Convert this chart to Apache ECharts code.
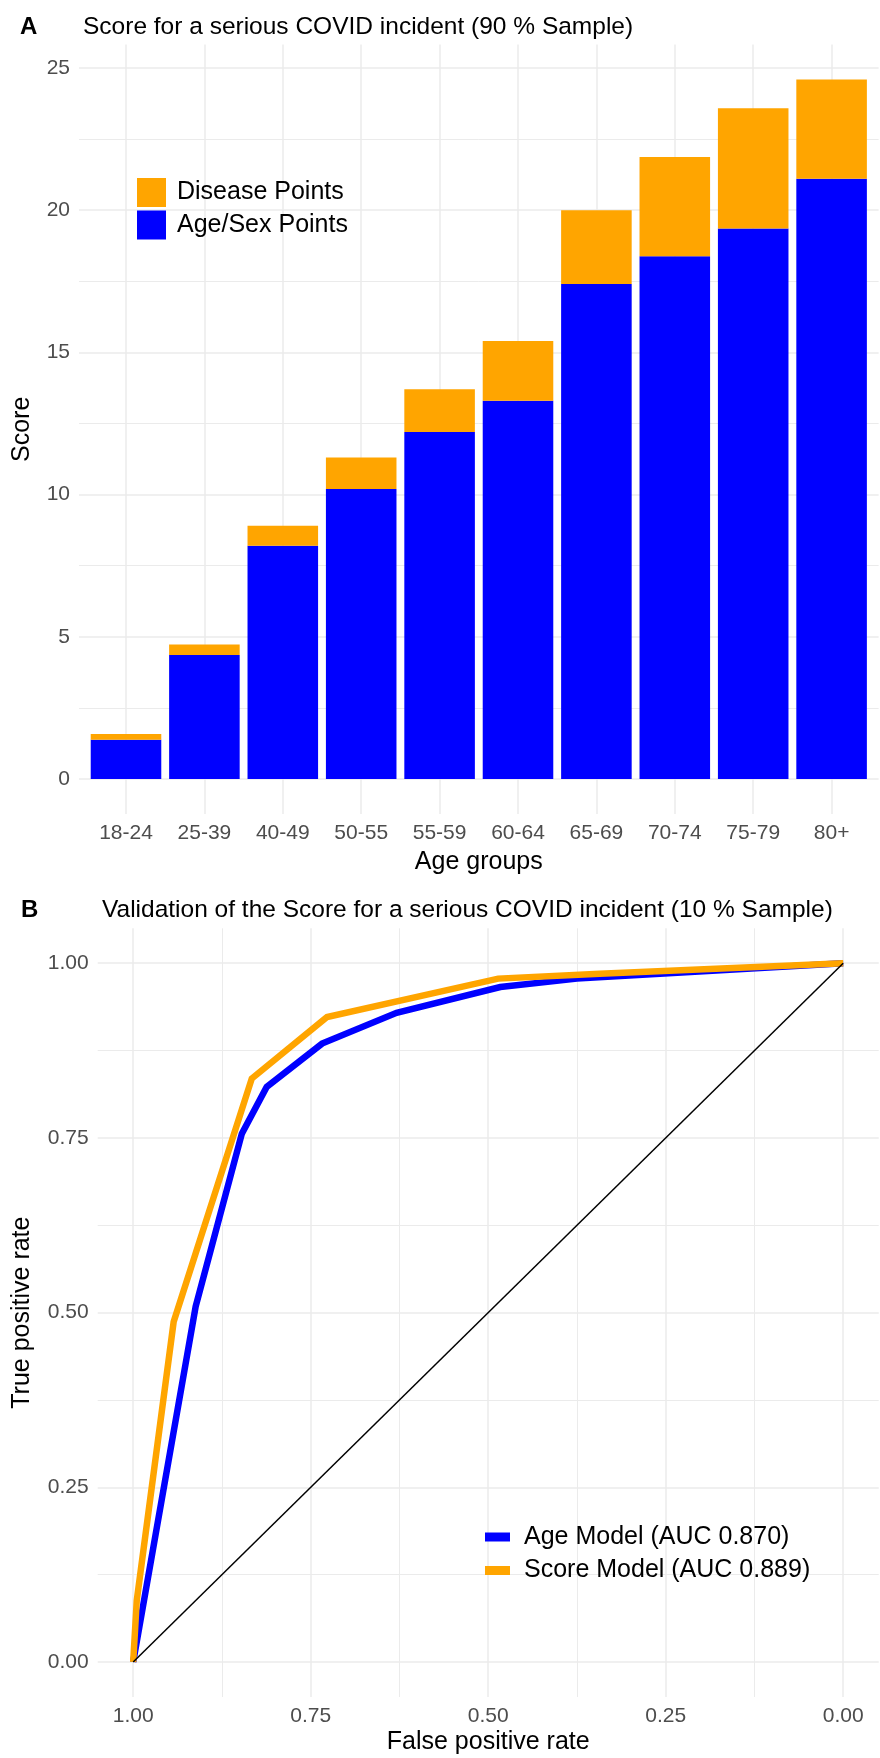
<!DOCTYPE html>
<html>
<head>
<meta charset="utf-8">
<script src="https://cdn.jsdelivr.net/npm/echarts@6/dist/echarts.min.js"></script>
<style>
html,body{margin:0;padding:0;background:#fff;}
#chart{width:880px;height:1758px;}
</style>
</head>
<body>
<div id="chart"></div>
<script>
// ---------- Panel A data ----------
const ageGroups = ['18-24','25-39','40-49','50-55','55-59','60-64','65-69','70-74','75-79','80+'];
const ageSexPoints = [1.38, 4.36, 8.2, 10.2, 12.2, 13.3, 17.4, 18.38, 19.35, 21.1];
const diseasePoints = [0.2, 0.37, 0.7, 1.1, 1.5, 2.1, 2.6, 3.49, 4.23, 3.49];
const scoreTicks = [0, 5, 10, 15, 20, 25];
const scoreMinorTicks = [2.5, 7.5, 12.5, 17.5, 22.5];

// ---------- Panel B data ----------
const ageModelFpr = [1, 0.912, 0.847, 0.812, 0.734, 0.629, 0.483, 0.375, 0];
const ageModelTpr = [0, 0.509, 0.756, 0.823, 0.885, 0.929, 0.966, 0.978, 1];
const scoreModelFpr = [1, 0.995, 0.943, 0.833, 0.727, 0.486, 0.343, 0];
const scoreModelTpr = [0, 0.088, 0.487, 0.835, 0.923, 0.978, 0.985, 1];
const chanceFpr = [1, 0];
const chanceTpr = [0, 1];
const rocTicks = [0, 0.25, 0.5, 0.75, 1];
const rocMinorTicks = [0.125, 0.375, 0.625, 0.875];

const FONT = 'Liberation Sans, Arial, sans-serif';
const GRID = '#EBEBEB';
const TICK = '#4D4D4D';

const totals = ageSexPoints.map((v, i) => v + diseasePoints[i]);
const maxTotal = Math.max(...totals);
const aMin = -0.05 * maxTotal, aMax = 1.05 * maxTotal;
const zip = (xs, ys) => xs.map((x, i) => [x, ys[i]]);

const chart = echarts.init(document.getElementById('chart'), null, {renderer: 'canvas'});

const titleStyle = {fontFamily: FONT, fontSize: 24.5, fontWeight: 'normal', color: '#000', lineHeight: 24};
const tagStyle = {fontFamily: FONT, fontSize: 24, fontWeight: 'bold', color: '#000', lineHeight: 24};

const option = {
  backgroundColor: '#fff',
  animation: false,
  textStyle: {fontFamily: FONT},
  title: [
    {text: 'A', left: 15, top: 10, textStyle: tagStyle},
    {text: 'Score for a serious COVID incident (90 % Sample)', left: 78, top: 10, textStyle: titleStyle},
    {text: 'B', left: 16, top: 893, textStyle: tagStyle},
    {text: 'Validation of the Score for a serious COVID incident (10 % Sample)', left: 97, top: 893, textStyle: titleStyle}
  ],
  legend: [
    {
      data: ['Disease Points', 'Age/Sex Points'],
      orient: 'vertical', left: 132, top: 173,
      itemWidth: 29, itemHeight: 29, itemGap: 3.5,
      icon: 'rect',
      textStyle: {fontFamily: FONT, fontSize: 25, color: '#000', padding: [0, 0, 0, 6]},
      selectedMode: false
    },
    {
      data: ['Age Model (AUC 0.870)', 'Score Model (AUC 0.889)'],
      orient: 'vertical', left: 480, top: 1518,
      itemWidth: 25, itemHeight: 9, itemGap: 5.5,
      icon: 'rect',
      textStyle: {fontFamily: FONT, fontSize: 25, color: '#000', lineHeight: 28, padding: [0, 0, 0, 9]},
      selectedMode: false
    }
  ],
  grid: [
    {left: 79, right: 1.4, top: 44.6, height: 769.4},      // A background (horizontal lines)
    {left: 86.8, right: 9.2, top: 44.6, height: 769.4},    // A bars
    {left: 97.7, right: 1.3, top: 928.3, height: 768.7}    // B
  ],
  xAxis: [
    {gridIndex: 0, type: 'value', min: 0, max: 1, show: false},
    {
      gridIndex: 1, type: 'category', data: ageGroups,
      name: 'Age groups', nameLocation: 'middle', nameGap: 36,
      nameTextStyle: {fontFamily: FONT, fontSize: 25, color: '#000'},
      axisLine: {show: false}, axisTick: {show: false},
      axisLabel: {fontFamily: FONT, fontSize: 21, color: TICK, margin: 9, interval: 0},
      splitLine: {show: true, alignWithLabel: true, lineStyle: {color: GRID, width: 1.5}}
    },
    {
      gridIndex: 2, type: 'value', inverse: true, min: -0.05, max: 1.05,
      name: 'False positive rate', nameLocation: 'middle', nameGap: 33,
      nameTextStyle: {fontFamily: FONT, fontSize: 25, color: '#000'},
      axisLine: {show: false},
      axisTick: {show: false, customValues: rocTicks},
      axisLabel: {customValues: rocTicks, fontFamily: FONT, fontSize: 21, color: TICK, margin: 9, formatter: v => v.toFixed(2)},
      splitLine: {show: true, lineStyle: {color: GRID, width: 1.5}}
    },
    {
      gridIndex: 2, type: 'value', inverse: true, min: -0.05, max: 1.05, position: 'top',
      axisLine: {show: false},
      axisTick: {show: false, customValues: rocMinorTicks},
      axisLabel: {show: false, customValues: rocMinorTicks},
      splitLine: {show: true, lineStyle: {color: GRID, width: 1}}
    }
  ],
  yAxis: [
    {
      gridIndex: 0, type: 'value', min: aMin, max: aMax,
      name: 'Score', nameLocation: 'middle', nameGap: 44, nameRotate: 90,
      nameTextStyle: {fontFamily: FONT, fontSize: 25, color: '#000'},
      axisLine: {show: false},
      axisTick: {show: false, customValues: scoreTicks},
      axisLabel: {customValues: scoreTicks, fontFamily: FONT, fontSize: 21, color: TICK, margin: 9},
      splitLine: {show: true, lineStyle: {color: GRID, width: 1.5}}
    },
    {
      gridIndex: 0, type: 'value', min: aMin, max: aMax, position: 'right',
      axisLine: {show: false},
      axisTick: {show: false, customValues: scoreMinorTicks},
      axisLabel: {show: false, customValues: scoreMinorTicks},
      splitLine: {show: true, lineStyle: {color: GRID, width: 1}}
    },
    {gridIndex: 1, type: 'value', min: aMin, max: aMax, show: false, splitLine: {show: false}},
    {
      gridIndex: 2, type: 'value', min: -0.05, max: 1.05,
      name: 'True positive rate', nameLocation: 'middle', nameGap: 63, nameRotate: 90,
      nameTextStyle: {fontFamily: FONT, fontSize: 25, color: '#000'},
      axisLine: {show: false},
      axisTick: {show: false, customValues: rocTicks},
      axisLabel: {customValues: rocTicks, fontFamily: FONT, fontSize: 21, color: TICK, margin: 9, formatter: v => v.toFixed(2)},
      splitLine: {show: true, lineStyle: {color: GRID, width: 1.5}}
    },
    {
      gridIndex: 2, type: 'value', min: -0.05, max: 1.05, position: 'right',
      axisLine: {show: false},
      axisTick: {show: false, customValues: rocMinorTicks},
      axisLabel: {show: false, customValues: rocMinorTicks},
      splitLine: {show: true, lineStyle: {color: GRID, width: 1}}
    }
  ],
  series: [
    {
      name: 'Age/Sex Points', type: 'bar', stack: 'score',
      xAxisIndex: 1, yAxisIndex: 2, barWidth: '90%',
      itemStyle: {color: '#0000FF'},
      data: ageSexPoints
    },
    {
      name: 'Disease Points', type: 'bar', stack: 'score',
      xAxisIndex: 1, yAxisIndex: 2, barWidth: '90%',
      itemStyle: {color: '#FFA500'},
      data: diseasePoints
    },
    {
      name: 'Age Model (AUC 0.870)', type: 'line',
      xAxisIndex: 2, yAxisIndex: 3, symbol: 'none',
      lineStyle: {color: '#0000FF', width: 6.5, join: 'miter'},
      itemStyle: {color: '#0000FF'},
      data: zip(ageModelFpr, ageModelTpr)
    },
    {
      name: 'Score Model (AUC 0.889)', type: 'line',
      xAxisIndex: 2, yAxisIndex: 3, symbol: 'none',
      lineStyle: {color: '#FFA500', width: 6.5, join: 'miter'},
      itemStyle: {color: '#FFA500'},
      data: zip(scoreModelFpr, scoreModelTpr)
    },
    {
      name: 'Chance', type: 'line',
      xAxisIndex: 2, yAxisIndex: 3, symbol: 'none',
      lineStyle: {color: '#000', width: 1.5},
      data: zip(chanceFpr, chanceTpr)
    }
  ]
};
chart.setOption(option);
</script>
</body>
</html>
